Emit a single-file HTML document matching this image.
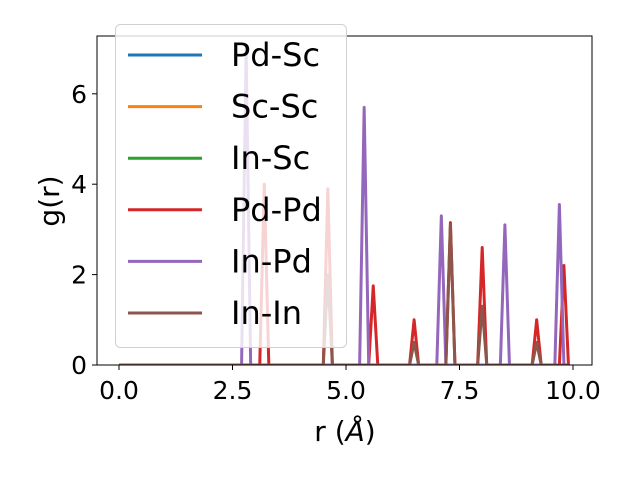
<!DOCTYPE html>
<html><head><meta charset="utf-8"><style>body{margin:0;background:#fff}svg{display:block}text{font-family:"DejaVu Sans","Liberation Sans",sans-serif}</style></head>
<body>
<svg id="c" width="640" height="480" xmlns="http://www.w3.org/2000/svg"></svg>
<script>
const xTicks=[0,2.5,5,7.5,10];
const xTickLabels=["0.0","2.5","5.0","7.5","10.0"];
const yTicks=[0,2,4,6];
const yTickLabels=["0","2","4","6"];
const seriesNames=["Pd-Sc","Sc-Sc","In-Sc","Pd-Pd","In-Pd","In-In"];
const seriesColors=["#1f77b4","#ff7f0e","#2ca02c","#d62728","#9467bd","#8c564b"];
const zeroR=[0,9.9];
const zeroG=[0,0];
const pdPdR=[0,3.1,3.2,3.3,4.5,4.6,4.7,5.5,5.6,5.7,6.4,6.5,6.6,7.2,7.3,7.4,7.9,8.0,8.1,9.1,9.2,9.3,9.7,9.8,9.9];
const pdPdG=[0,0,4.0,0,0,3.9,0,0,1.75,0,0,1.0,0,0,3.15,0,0,2.6,0,0,1.0,0,0,2.2,0];
const inPdR=[0,2.7,2.8,2.9,5.3,5.4,5.5,7.0,7.1,7.2,8.4,8.5,8.6,9.6,9.7,9.8,9.9];
const inPdG=[0,0,7.0,0,0,5.7,0,0,3.3,0,0,3.1,0,0,3.55,0,0];
const inInR=[0,4.5,4.6,4.7,6.4,6.5,6.6,7.2,7.3,7.4,7.9,8.0,8.1,9.1,9.2,9.3,9.9];
const inInG=[0,0,2.0,0,0,0.5,0,0,3.1,0,0,1.3,0,0,0.5,0,0];
const seriesR=[zeroR,zeroR,zeroR,pdPdR,inPdR,inInR];
const seriesG=[zeroG,zeroG,zeroG,pdPdG,inPdG,inInG];

const L=97,R=592,T=36,B=365;
const sx=r=>119+45.4*r, sy=g=>B-45.2*g;
const svg=document.getElementById('c');
const NS="http://www.w3.org/2000/svg";
function mk(tag,attrs,parent){const e=document.createElementNS(NS,tag);for(const k in attrs)e.setAttribute(k,attrs[k]);(parent||svg).appendChild(e);return e;}

const clip=mk('clipPath',{id:'cp'});mk('rect',{x:L,y:T,width:R-L,height:B-T},clip);
const g=mk('g',{'clip-path':'url(#cp)'});
seriesR.forEach((rs,i)=>{
  const p=mk('polyline',{points:rs.map((r,j)=>sx(r)+','+sy(seriesG[i][j])).join(' '),fill:'none',stroke:seriesColors[i],'stroke-width':3,'stroke-linejoin':'round'},g);
  
  
});
const frame=mk('rect',{x:L,y:T,width:R-L,height:B-T,fill:'none',stroke:'#000','stroke-width':1});


xTicks.forEach((v,i)=>{
  const x=sx(v);
  const t=mk('line',{x1:x,x2:x,y1:B,y2:B+5,stroke:'#000'});
  
  const l=mk('text',{x:x,y:B+34,'font-size':25,'text-anchor':'middle'});l.textContent=xTickLabels[i];
  
});
yTicks.forEach((v,i)=>{
  const y=sy(v);
  const t=mk('line',{x1:L-5,x2:L,y1:y,y2:y,stroke:'#000'});
  
  const l=mk('text',{x:L-10,y:y+9,'font-size':25,'text-anchor':'end'});l.textContent=yTickLabels[i];
  
});
const xl=mk('text',{x:345,y:441,'font-size':28,'text-anchor':'middle'});
xl.innerHTML='r (<tspan font-style="italic">Å</tspan>)';

const yl=mk('text',{x:0,y:0,'font-size':28,'text-anchor':'middle',transform:'translate(59,201) rotate(-90)'});
yl.textContent='g(r)';


const lg=mk('g',{});

mk('rect',{x:115.5,y:24.5,width:231,height:323,rx:5,fill:'rgba(255,255,255,0.8)',stroke:'#d0d0d0'},lg);
seriesNames.forEach((n,i)=>{
  const y=55+51.6*i;
  const e=mk('g',{},lg);
  
  mk('line',{x1:128,x2:202,y1:y,y2:y,stroke:seriesColors[i],'stroke-width':3},e);
  const t=mk('text',{x:231,y:y+11,'font-size':32},e);t.textContent=n;
});
</script>
</body></html>
